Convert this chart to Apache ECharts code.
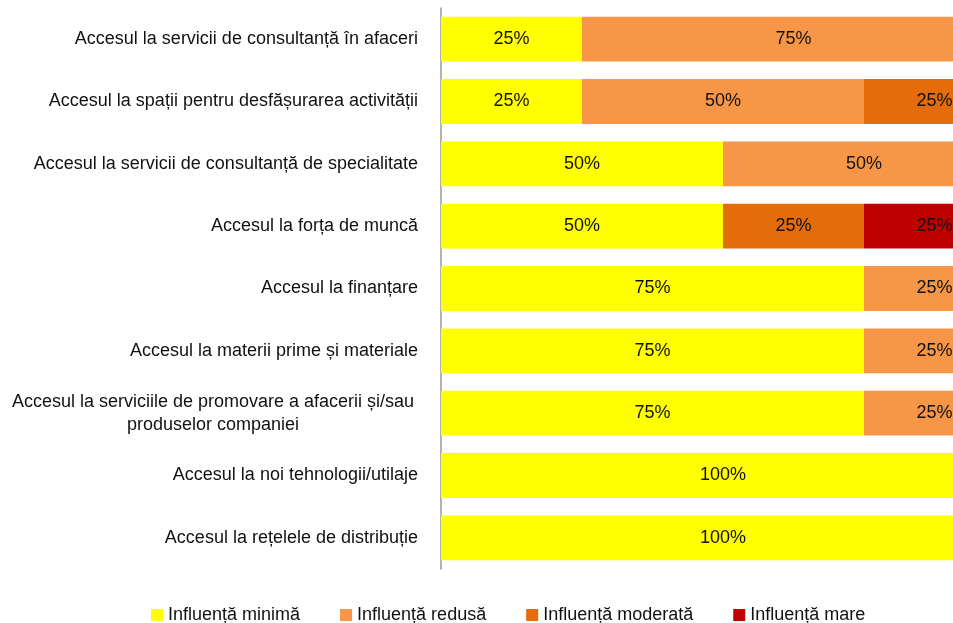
<!DOCTYPE html>
<html>
<head>
<meta charset="utf-8">
<script src="https://cdn.jsdelivr.net/npm/echarts@6/dist/echarts.min.js"></script>
<style>
  html, body { margin: 0; padding: 0; background: #fff; }
  #chart { width: 953px; height: 623px; }
</style>
</head>
<body>
<div id="chart"></div>
<script>
const categories = [
  "Accesul la servicii de consultanță în afaceri",
  "Accesul la spații pentru desfășurarea activității",
  "Accesul la servicii de consultanță de specialitate",
  "Accesul la forța de muncă",
  "Accesul la finanțare",
  "Accesul la materii prime și materiale",
  "Accesul la serviciile de promovare a afacerii și/sau\nproduselor companiei",
  "Accesul la noi tehnologii/utilaje",
  "Accesul la rețelele de distribuție"
]
const minima = [25, 25, 50, 50, 75, 75, 75, 100, 100]
const redusa = [75, 50, 50, 0, 25, 25, 25, 0, 0]
const moderata = [0, 25, 0, 25, 0, 0, 0, 0, 0]
const mare = [0, 0, 0, 25, 0, 0, 0, 0, 0]

const font = "'Liberation Sans', Arial, sans-serif"

const makeSeries = (name, values, color) => ({
  name: name,
  type: "bar",
  stack: "total",
  barCategoryGap: "28%",
  data: values,
  itemStyle: { color: color },
  label: {
    show: true,
    position: "inside",
    color: "#111",
    fontFamily: font,
    fontSize: 18,
    formatter: (p) => (p.value ? p.value + "%" : "")
  }
})

const chart = echarts.init(document.getElementById("chart"))
chart.setOption({
  animation: false,
  textStyle: { fontFamily: font },
  // plot runs past the right edge, like the original (last labels cut off)
  grid: { left: 441, top: 8, width: 564, height: 561, outerBoundsMode: "none" },
  legend: {
    top: 601,
    left: 146,
    itemWidth: 12,
    itemHeight: 12,
    itemGap: 40,
    icon: "rect",
    textStyle: { fontFamily: font, fontSize: 18, color: "#111" },
    data: ["Influență minimă", "Influență redusă", "Influență moderată", "Influență mare"]
  },
  xAxis: {
    type: "value",
    min: 0,
    max: 100,
    show: false
  },
  yAxis: {
    type: "category",
    inverse: true,
    data: categories,
    axisTick: { show: false },
    axisLine: { lineStyle: { color: "#999", width: 1.5 } },
    axisLabel: {
      margin: 23,
      color: "#111",
      fontFamily: font,
      fontSize: 18,
      lineHeight: 22,
      formatter: (v) => (v.indexOf("\n") >= 0 ? "{c|" + v.split("\n").join("}\n{c|") + "}" : v),
      rich: {
        c: { width: 410, align: "center", fontSize: 18, fontFamily: font, color: "#111", lineHeight: 23 }
      }
    }
  },
  series: [
    makeSeries("Influență minimă", minima, "#FFFF00"),
    makeSeries("Influență redusă", redusa, "#F79646"),
    makeSeries("Influență moderată", moderata, "#E46C0A"),
    makeSeries("Influență mare", mare, "#C00000")
  ]
})
</script>
</body>
</html>
